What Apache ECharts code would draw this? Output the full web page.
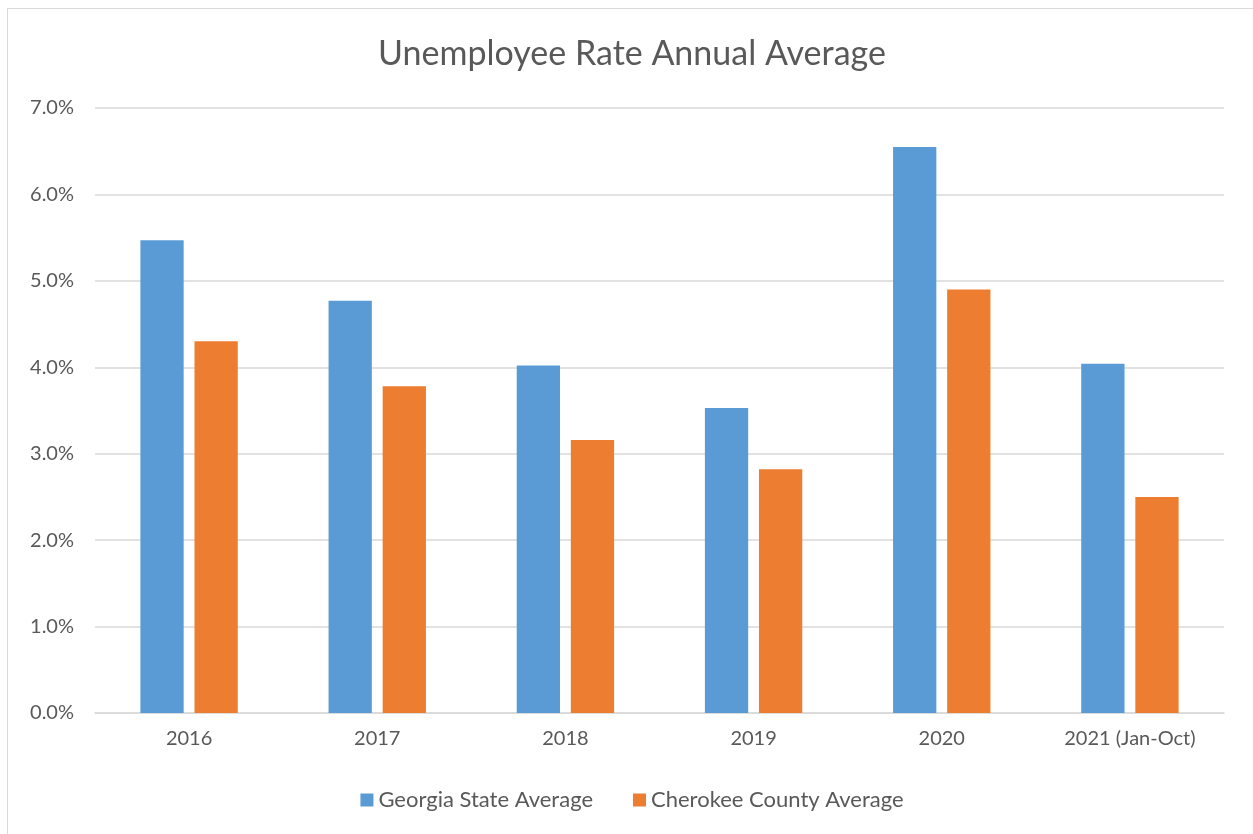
<!DOCTYPE html>
<html><head><meta charset="utf-8">
<script src="https://cdn.jsdelivr.net/npm/echarts@6/dist/echarts.min.js"></script>
<style>html,body{margin:0;padding:0;background:#fff}#c{position:absolute;left:7px;top:8px;width:1250px;height:830px;border:1px solid #d9d9d9;box-sizing:border-box}</style>
</head><body><div id="c"></div>
<script>
const categories = ['2016','2017','2018','2019','2020','2021 (Jan-Oct)'];
const georgia = [5.47, 4.77, 4.02, 3.53, 6.55, 4.04];
const cherokee = [4.30, 3.78, 3.16, 2.82, 4.90, 2.50];
const yTicks = [0,1,2,3,4,5,6,7];
const font = 'Lato, "Open Sans", sans-serif';
const chart = echarts.init(document.getElementById('c'));
chart.setOption({
  animation:false,
  title:{text:'Unemployee Rate Annual Average',left:'center',top:23,textStyle:{fontFamily:font,fontSize:34,fontWeight:'normal',color:'#595959'}},
  grid:{left:87,right:32,top:99,bottom:124,containLabel:false},
  legend:{top:775,left:'center',itemWidth:13,itemHeight:13,itemGap:40,icon:'rect',
    textStyle:{fontFamily:font,fontSize:22,color:'#595959'},data:['Georgia State Average','Cherokee County Average']},
  xAxis:{type:'category',data:categories,axisTick:{show:false},axisLine:{lineStyle:{color:'#d9d9d9',width:1.5}},
    axisLabel:{fontFamily:font,fontSize:20,color:'#595959',margin:16}},
  yAxis:{type:'value',min:0,max:7,interval:1,axisLine:{show:false},axisTick:{show:false},
    splitLine:{lineStyle:{color:'#d9d9d9',width:1.5}},
    axisLabel:{fontFamily:font,fontSize:20,color:'#595959',margin:21,formatter:v=>v.toFixed(1)+'%'}},
  series:[
    {name:'Georgia State Average',type:'bar',data:georgia,barWidth:'23%',barGap:'25%',itemStyle:{color:'#5b9bd5'}},
    {name:'Cherokee County Average',type:'bar',data:cherokee,barWidth:'23%',barGap:'25%',itemStyle:{color:'#ed7d31'}}
  ]
});
</script></body></html>
